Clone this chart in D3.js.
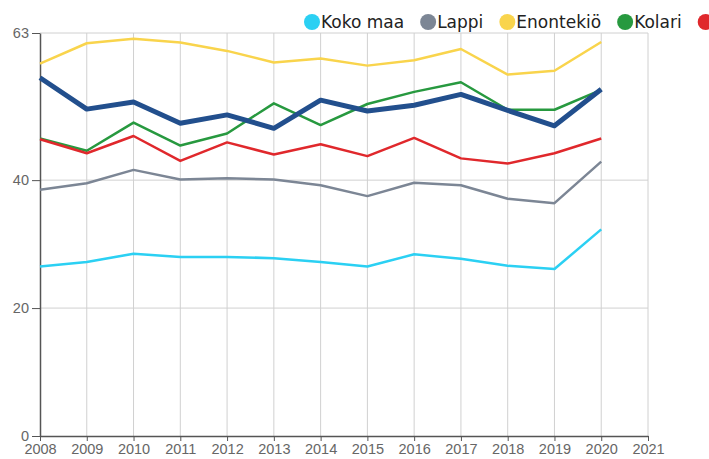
<!DOCTYPE html>
<html>
<head>
<meta charset="utf-8">
<script src="https://cdn.jsdelivr.net/npm/d3@7"></script>
<style>
  body { margin: 0; background: #fff; overflow: hidden; }
  svg { display: block; font-family: "DejaVu Sans", sans-serif; }
  .grid line { stroke: #d0d0d0; stroke-width: 1; }
  .axis path, .axis line { stroke: #555; }
  .axis text { fill: #666; font-size: 14.5px; }
</style>
</head>
<body>
<div id="chart"></div>
<script>
// Years on the x axis
const years = [2008, 2009, 2010, 2011, 2012, 2013, 2014, 2015, 2016, 2017, 2018, 2019, 2020];
const yTicks = [0, 20, 40, 63];

// Series values
const kokoMaa   = [26.5, 27.2, 28.5, 28.0, 28.0, 27.8, 27.2, 26.5, 28.4, 27.7, 26.6, 26.1, 32.3];
const lappi     = [38.5, 39.5, 41.6, 40.1, 40.3, 40.1, 39.2, 37.5, 39.6, 39.2, 37.1, 36.4, 42.9];
const enontekio = [58.2, 61.4, 62.1, 61.5, 60.2, 58.4, 59.0, 57.9, 58.75, 60.5, 56.5, 57.1, 61.6];
const kolari    = [46.5, 44.6, 49.0, 45.4, 47.3, 52.0, 48.6, 51.9, 53.8, 55.3, 51.0, 51.0, 54.1];
const muonio    = [46.4, 44.2, 46.9, 43.0, 45.9, 44.0, 45.6, 43.75, 46.6, 43.4, 42.6, 44.2, 46.5];
const pello     = [56.0, 51.1, 52.2, 48.9, 50.2, 48.1, 52.5, 50.8, 51.7, 53.4, 50.9, 48.5, 54.2];

const seriesNames  = ['Koko maa', 'Lappi', 'Enontekiö', 'Kolari', 'Muonio', 'Pello'];
const seriesValues = [kokoMaa, lappi, enontekio, kolari, muonio, pello];
const seriesColors = ['#2bd0f3', '#7c8695', '#f9d44c', '#27993f', '#e0282c', '#224f8d'];
const seriesWidths = [2.5, 2.5, 2.5, 2.5, 2.5, 5];

const width = 709, height = 459;
const margin = { top: 33, right: 61, bottom: 23, left: 40 };

const svg = d3.select('#chart').append('svg')
    .attr('width', width)
    .attr('height', height);

const x = d3.scaleLinear()
    .domain([2008, 2021])
    .range([margin.left, width - margin.right]);

const y = d3.scaleLinear()
    .domain([0, 63])
    .range([height - margin.bottom, margin.top]);

// Grid
const grid = svg.append('g').attr('class', 'grid');
grid.selectAll('.vx')
    .data(d3.range(2009, 2022))
    .join('line')
    .attr('x1', d => x(d)).attr('x2', d => x(d))
    .attr('y1', y(63)).attr('y2', y(0));
grid.selectAll('.hy')
    .data(yTicks.filter(d => d > 0))
    .join('line')
    .attr('x1', x(2008)).attr('x2', x(2021))
    .attr('y1', d => y(d)).attr('y2', d => y(d));

// Axes
svg.append('g')
    .attr('class', 'axis')
    .attr('transform', `translate(0,${y(0)})`)
    .call(d3.axisBottom(x).tickValues(d3.range(2008, 2022)).tickFormat(d3.format('d')).tickSize(5).tickSizeOuter(0));

svg.append('g')
    .attr('class', 'axis')
    .attr('transform', `translate(${x(2008)},0)`)
    .call(d3.axisLeft(y).tickValues(yTicks).tickSize(8).tickSizeOuter(0));

svg.selectAll('.axis .domain').attr('stroke-width', 1.5);

// Lines
const line = d3.line()
    .x((d, i) => x(years[i]))
    .y(d => y(d));

svg.append('g').selectAll('path')
    .data(seriesValues)
    .join('path')
    .attr('fill', 'none')
    .attr('stroke', (d, i) => seriesColors[i])
    .attr('stroke-width', (d, i) => seriesWidths[i])
    .attr('stroke-linejoin', 'round')
    .attr('d', line);

// Legend (runs off the right edge, like the original)
const legend = svg.append('g').attr('transform', 'translate(312,22)');
let lx = 0;
seriesNames.forEach((name, i) => {
    const item = legend.append('g').attr('transform', `translate(${lx},0)`);
    item.append('circle').attr('r', 8).attr('fill', seriesColors[i]);
    const t = item.append('text')
        .attr('x', 9).attr('y', 6)
        .attr('font-size', 17)
        .attr('fill', '#222')
        .text(name);
    lx += 9 + t.node().getComputedTextLength() + 24;
});
</script>
</body>
</html>
